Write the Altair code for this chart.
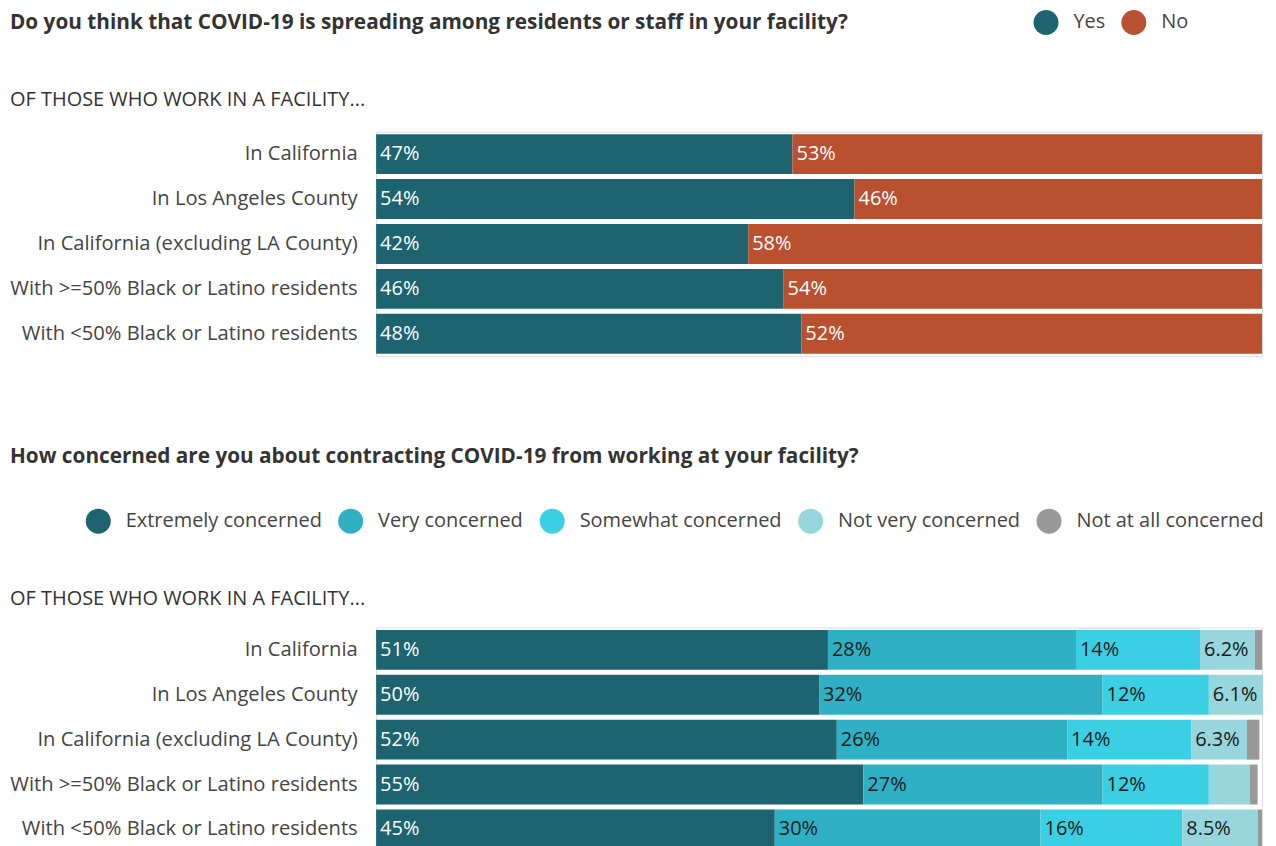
import altair as alt
import pandas as pd

FONT = "Open Sans"

groups = [
    "In California",
    "In Los Angeles County",
    "In California (excluding LA County)",
    "With >=50% Black or Latino residents",
    "With <50% Black or Latino residents",
]

spread_answers = ["Yes", "No"]
spread_yes = [47, 54, 42, 46, 48]
spread_no = [53, 46, 58, 54, 52]
spread_colors = ["#1d6470", "#b9502f"]

concern_levels = [
    "Extremely concerned",
    "Very concerned",
    "Somewhat concerned",
    "Not very concerned",
    "Not at all concerned",
]
concern_extremely = [51, 50, 52, 55, 45]
concern_very = [28, 32, 26, 27, 30]
concern_somewhat = [14, 12, 14, 12, 16]
concern_notvery = [6.2, 6.1, 6.3, 4.6, 8.5]
concern_notatall = [0.8, 0, 1.4, 0.9, 0.5]
concern_colors = ["#1d6470", "#2fb0c4", "#3bcfe4", "#96d6dc", "#999999"]

q1 = "Do you think that COVID-19 is spreading among residents or staff in your facility?"
q2 = "How concerned are you about contracting COVID-19 from working at your facility?"
sub = "OF THOSE WHO WORK IN A FACILITY..."


def long_df(series, names):
    rows = []
    for k, (name, vals) in enumerate(zip(names, series)):
        for g, v in zip(groups, vals):
            rows.append({"group": g, "answer": name, "value": v, "order": k})
    return pd.DataFrame(rows)


df_top = long_df([spread_yes, spread_no], spread_answers)
df_bot = long_df(
    [concern_extremely, concern_very, concern_somewhat, concern_notvery, concern_notatall],
    concern_levels,
)

yenc = alt.Y(
    "group:N",
    sort=groups,
    scale=alt.Scale(paddingInner=0.111, paddingOuter=0.0555),
    axis=alt.Axis(
        title=None, ticks=False, domain=False, labelFontSize=20.2, labelPadding=19,
        labelColor="#444444", labelFont=FONT, labelLimit=500,
    ),
)
xscale = alt.Scale(domain=[0, 100], nice=False, zero=True)


def make_chart(df, domain, colors, legend_x, legend_y, title_text, title_offset, sub_pad, text_color):
    base = alt.Chart(df).transform_stack(
        stack="value", groupby=["group"], as_=["x0", "x1"], sort=[alt.SortField("order")]
    ).transform_calculate(
        label="datum.value >= 5 ? datum.value + '%' : ''"
    )
    bars = base.mark_bar().encode(
        x=alt.X("x0:Q", scale=xscale, axis=None),
        x2="x1:Q",
        y=yenc,
        color=alt.Color(
            "answer:N",
            scale=alt.Scale(domain=domain, range=colors),
            legend=alt.Legend(
                orient="none", direction="horizontal", legendX=legend_x, legendY=legend_y,
                title=None, symbolType="circle", symbolSize=625, symbolStrokeWidth=0,
                symbolOpacity=1, labelFontSize=20, labelOffset=15, columnPadding=16,
                labelColor="#444444", labelFont=FONT, padding=0, labelLimit=400,
            ),
        ),
    )
    text = base.mark_text(
        align="left", baseline="middle", dx=4, fontSize=20, font=FONT
    ).encode(
        x=alt.X("x0:Q", scale=xscale, axis=None),
        y=yenc,
        text="label:N",
        color=text_color,
    )
    return alt.layer(bars, text).properties(
        width=888,
        height=225,
        title=alt.Title(
            text=title_text,
            subtitle=sub,
            anchor="start",
            frame="group",
            dx=-367,
            offset=title_offset,
            font=FONT,
            fontSize=20.8,
            fontWeight="bold",
            color="#333333",
            subtitleFont=FONT,
            subtitleFontSize=20,
            subtitleColor="#333333",
            subtitlePadding=sub_pad,
        ),
    )


top = make_chart(
    df_top, spread_answers, spread_colors, 659, -122, q1, -100.87, 56.3,
    alt.value("white"),
)
bottom = make_chart(
    df_bot, concern_levels, concern_colors, -291, -119, q2, -101.87, 121.6,
    alt.condition(alt.datum.answer == "Extremely concerned", alt.value("white"), alt.value("#1a1a1a")),
)

chart = alt.vconcat(top, bottom, spacing=87.9).resolve_scale(color="independent").properties(
    padding={"left": 1, "top": 0, "right": 0, "bottom": 0}
).configure_view(stroke=None).configure(background="white")

chart.save("out.html", embed_options={"renderer": "svg", "actions": False})
